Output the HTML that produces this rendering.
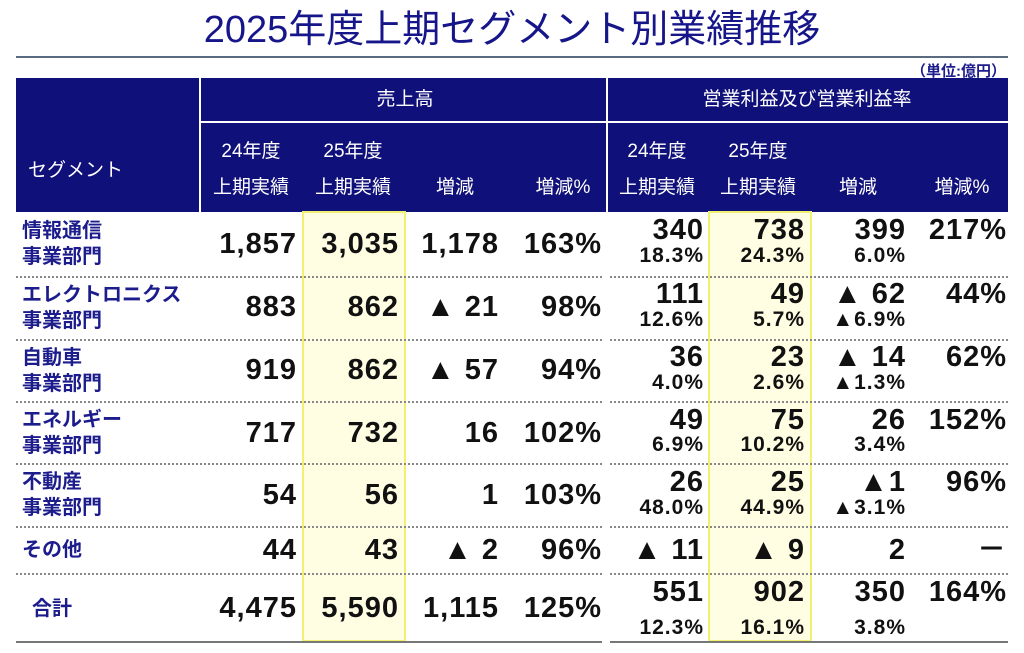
<!DOCTYPE html>
<html><head><meta charset="utf-8">
<style>
*{margin:0;padding:0;box-sizing:border-box}
body{width:1024px;height:653px;background:#fff;position:relative;overflow:hidden;font-family:"Liberation Sans","Noto Sans CJK JP",sans-serif}
.a{position:absolute}
.t{left:0;width:1024px;top:6px;text-align:center;font-size:38px;color:#16168a;line-height:48px}
.hd{background:#10107a}
.w{background:#fff}
.h{color:#fff;font-size:19px;text-align:center;width:110px;line-height:24px;white-space:nowrap}
.y{background:#fffde2;border:2px solid #f2f070}
.s{color:#1c1c8c;font-size:20px;font-weight:bold;line-height:26px;left:22px;white-space:nowrap}
.n{font-size:29px;font-weight:bold;text-align:right;width:140px;line-height:32px;color:#111;letter-spacing:1px}
.p{font-size:21px;font-weight:bold;text-align:right;width:140px;line-height:24px;color:#111;letter-spacing:1px}
.d{height:0;border-top:2px dotted #888}
</style></head><body>
<div class="a t">2025年度上期セグメント別業績推移</div>
<div class="a" style="left:16px;top:56px;width:992px;height:2px;background:#5a6a80"></div>
<div class="a" style="right:18px;top:60px;font-size:15px;font-weight:bold;color:#1c1c8c">（単位:億円）</div>

<div class="a hd" style="left:16px;top:78px;width:992px;height:134px"></div>
<div class="a w" style="left:199px;top:78px;width:2px;height:134px"></div>
<div class="a w" style="left:606px;top:78px;width:2px;height:134px"></div>
<div class="a w" style="left:200px;top:121px;width:808px;height:2px"></div>
<div class="a" style="left:28px;top:155px;color:#fff;font-size:19px">セグメント</div>
<div class="a h" style="left:350px;top:88px">売上高</div>
<div class="a h" style="left:677px;top:88px;width:260px">営業利益及び営業利益率</div>
<div class="a h" style="left:196px;top:140px">24年度</div><div class="a h" style="left:196px;top:176px">上期実績</div>
<div class="a h" style="left:298px;top:140px">25年度</div><div class="a h" style="left:298px;top:176px">上期実績</div>
<div class="a h" style="left:400px;top:176px">増減</div>
<div class="a h" style="left:508px;top:176px">増減%</div>
<div class="a h" style="left:602px;top:140px">24年度</div><div class="a h" style="left:602px;top:176px">上期実績</div>
<div class="a h" style="left:703px;top:140px">25年度</div><div class="a h" style="left:703px;top:176px">上期実績</div>
<div class="a h" style="left:803px;top:176px">増減</div>
<div class="a h" style="left:907px;top:176px">増減%</div>

<div class="a y" style="left:302px;top:211px;width:104px;height:431px"></div>
<div class="a y" style="left:708px;top:211px;width:104px;height:431px"></div>

<div class="a d" style="left:16px;top:276px;width:586px"></div><div class="a d" style="left:610px;top:276px;width:398px"></div>
<div class="a d" style="left:16px;top:339px;width:586px"></div><div class="a d" style="left:610px;top:339px;width:398px"></div>
<div class="a d" style="left:16px;top:401px;width:586px"></div><div class="a d" style="left:610px;top:401px;width:398px"></div>
<div class="a d" style="left:16px;top:463px;width:586px"></div><div class="a d" style="left:610px;top:463px;width:398px"></div>
<div class="a d" style="left:16px;top:526px;width:586px"></div><div class="a d" style="left:610px;top:526px;width:398px"></div>
<div class="a d" style="left:16px;top:573px;width:586px"></div><div class="a d" style="left:610px;top:573px;width:398px"></div>
<div class="a" style="left:16px;top:641px;width:586px;height:2px;background:#777"></div><div class="a" style="left:610px;top:641px;width:398px;height:2px;background:#777"></div>

<div class="a s" style="top:218px">情報通信<br>事業部門</div>
<div class="a n" style="left:157px;top:228px">1,857</div>
<div class="a n" style="left:259px;top:228px">3,035</div>
<div class="a n" style="left:359px;top:228px">1,178</div>
<div class="a n" style="left:462px;top:228px">163%</div>
<div class="a n" style="left:564px;top:214px">340</div><div class="a p" style="left:564px;top:244px">18.3%</div>
<div class="a n" style="left:665px;top:214px">738</div><div class="a p" style="left:665px;top:244px">24.3%</div>
<div class="a n" style="left:766px;top:214px">399</div><div class="a p" style="left:766px;top:244px">6.0%</div>
<div class="a n" style="left:867px;top:214px">217%</div>

<div class="a s" style="top:282px">エレクトロニクス<br>事業部門</div>
<div class="a n" style="left:157px;top:291px">883</div>
<div class="a n" style="left:259px;top:291px">862</div>
<div class="a n" style="left:359px;top:291px">▲ 21</div>
<div class="a n" style="left:462px;top:291px">98%</div>
<div class="a n" style="left:564px;top:278px">111</div><div class="a p" style="left:564px;top:308px">12.6%</div>
<div class="a n" style="left:665px;top:278px">49</div><div class="a p" style="left:665px;top:308px">5.7%</div>
<div class="a n" style="left:766px;top:278px">▲ 62</div><div class="a p" style="left:766px;top:308px">▲6.9%</div>
<div class="a n" style="left:867px;top:278px">44%</div>

<div class="a s" style="top:345px">自動車<br>事業部門</div>
<div class="a n" style="left:157px;top:354px">919</div>
<div class="a n" style="left:259px;top:354px">862</div>
<div class="a n" style="left:359px;top:354px">▲ 57</div>
<div class="a n" style="left:462px;top:354px">94%</div>
<div class="a n" style="left:564px;top:341px">36</div><div class="a p" style="left:564px;top:371px">4.0%</div>
<div class="a n" style="left:665px;top:341px">23</div><div class="a p" style="left:665px;top:371px">2.6%</div>
<div class="a n" style="left:766px;top:341px">▲ 14</div><div class="a p" style="left:766px;top:371px">▲1.3%</div>
<div class="a n" style="left:867px;top:341px">62%</div>

<div class="a s" style="top:407px">エネルギー<br>事業部門</div>
<div class="a n" style="left:157px;top:417px">717</div>
<div class="a n" style="left:259px;top:417px">732</div>
<div class="a n" style="left:359px;top:417px">16</div>
<div class="a n" style="left:462px;top:417px">102%</div>
<div class="a n" style="left:564px;top:404px">49</div><div class="a p" style="left:564px;top:433px">6.9%</div>
<div class="a n" style="left:665px;top:404px">75</div><div class="a p" style="left:665px;top:433px">10.2%</div>
<div class="a n" style="left:766px;top:404px">26</div><div class="a p" style="left:766px;top:433px">3.4%</div>
<div class="a n" style="left:867px;top:404px">152%</div>

<div class="a s" style="top:469px">不動産<br>事業部門</div>
<div class="a n" style="left:157px;top:479px">54</div>
<div class="a n" style="left:259px;top:479px">56</div>
<div class="a n" style="left:359px;top:479px">1</div>
<div class="a n" style="left:462px;top:479px">103%</div>
<div class="a n" style="left:564px;top:466px">26</div><div class="a p" style="left:564px;top:496px">48.0%</div>
<div class="a n" style="left:665px;top:466px">25</div><div class="a p" style="left:665px;top:496px">44.9%</div>
<div class="a n" style="left:766px;top:466px">▲1</div><div class="a p" style="left:766px;top:496px">▲3.1%</div>
<div class="a n" style="left:867px;top:466px">96%</div>

<div class="a s" style="top:537px">その他</div>
<div class="a n" style="left:157px;top:534px">44</div>
<div class="a n" style="left:259px;top:534px">43</div>
<div class="a n" style="left:359px;top:534px">▲ 2</div>
<div class="a n" style="left:462px;top:534px">96%</div>
<div class="a n" style="left:564px;top:534px">▲ 11</div>
<div class="a n" style="left:665px;top:534px">▲ 9</div>
<div class="a n" style="left:766px;top:534px">2</div>
<div class="a n" style="left:867px;top:534px">－</div>

<div class="a s" style="top:596px;left:32px">合計</div>
<div class="a n" style="left:157px;top:592px">4,475</div>
<div class="a n" style="left:259px;top:592px">5,590</div>
<div class="a n" style="left:359px;top:592px">1,115</div>
<div class="a n" style="left:462px;top:592px">125%</div>
<div class="a n" style="left:564px;top:576px">551</div><div class="a p" style="left:564px;top:616px">12.3%</div>
<div class="a n" style="left:665px;top:576px">902</div><div class="a p" style="left:665px;top:616px">16.1%</div>
<div class="a n" style="left:766px;top:576px">350</div><div class="a p" style="left:766px;top:616px">3.8%</div>
<div class="a n" style="left:867px;top:576px">164%</div>
</body></html>
